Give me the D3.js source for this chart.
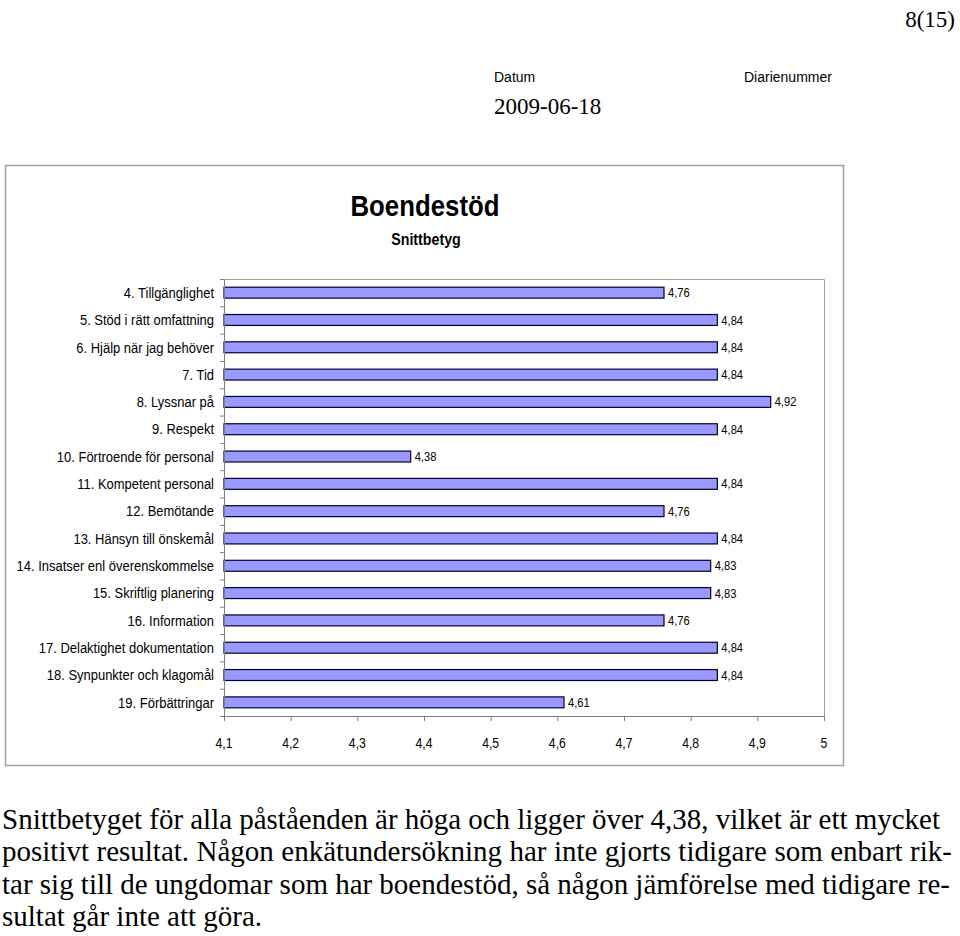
<!DOCTYPE html>
<html>
<head>
<meta charset="utf-8">
<script src="https://cdn.jsdelivr.net/npm/d3@7"></script>
<style>
  body { margin: 0; background: #fff; }
  svg { display: block; }
</style>
</head>
<body>
<svg id="page" width="960" height="936"></svg>
<script>
// chart data
var categories = [
  "4. Tillgänglighet",
  "5. Stöd i rätt omfattning",
  "6. Hjälp när jag behöver",
  "7. Tid",
  "8. Lyssnar på",
  "9. Respekt",
  "10. Förtroende för personal",
  "11. Kompetent personal",
  "12. Bemötande",
  "13. Hänsyn till önskemål",
  "14. Insatser enl överenskommelse",
  "15. Skriftlig planering",
  "16. Information",
  "17. Delaktighet dokumentation",
  "18. Synpunkter och klagomål",
  "19. Förbättringar"
];
var values = [4.76, 4.84, 4.84, 4.84, 4.92, 4.84, 4.38, 4.84, 4.76, 4.84, 4.83, 4.83, 4.76, 4.84, 4.84, 4.61];
var xTicks = [4.1, 4.2, 4.3, 4.4, 4.5, 4.6, 4.7, 4.8, 4.9, 5];

var bodyLines = [
  "Snittbetyget för alla påståenden är höga och ligger över 4,38, vilket är ett mycket",
  "positivt resultat. Någon enkätundersökning har inte gjorts tidigare som enbart rik-",
  "tar sig till de ungdomar som har boendestöd, så någon jämförelse med tidigare re-",
  "sultat går inte att göra."
];

var fmt = function(v) { return String(v).replace(".", ","); };
var sans = "'Liberation Sans', Arial, sans-serif";
var serif = "'Liberation Serif', 'Times New Roman', serif";

var svg = d3.select("#page");

// narrow (condensed) text: a group squeezed horizontally, x given in page pixels
function narrowGroup(sx) {
  var g = svg.append("g").attr("transform", "scale(" + sx + ",1)");
  g.sx = sx;
  return g;
}

// page header
svg.append("text").attr("x", 955).attr("y", 27).attr("text-anchor", "end")
  .style("font-family", serif).style("font-size", "23px").text("8(15)");
svg.append("text").attr("x", 494).attr("y", 82)
  .style("font-family", sans).style("font-size", "14px").text("Datum");
svg.append("text").attr("x", 744).attr("y", 82)
  .style("font-family", sans).style("font-size", "14px").text("Diarienummer");
svg.append("text").attr("x", 494).attr("y", 114)
  .style("font-family", serif).style("font-size", "23px").text("2009-06-18");

// chart frame
svg.append("rect")
  .attr("x", 5.5).attr("y", 165.5).attr("width", 838).attr("height", 600)
  .attr("fill", "#fff").attr("stroke", "#a0a0a0").attr("stroke-width", 1.5);

var titles = narrowGroup(0.86);
titles.append("text").attr("x", 425 / titles.sx).attr("y", 216).attr("text-anchor", "middle")
  .style("font-family", sans).style("font-weight", "bold").style("font-size", "30px")
  .text("Boendestöd");
var sub = narrowGroup(0.89);
sub.append("text").attr("x", 426 / sub.sx).attr("y", 245).attr("text-anchor", "middle")
  .style("font-family", sans).style("font-weight", "bold").style("font-size", "16px")
  .text("Snittbetyg");

var plotLeft = 224, plotRight = 824, plotTop = 279, plotBottom = 716;

var x = d3.scaleLinear().domain([4.1, 5]).range([plotLeft, plotRight]);
var y = d3.scaleBand().domain(categories).range([plotTop, plotBottom])
  .paddingInner(0.6).paddingOuter(0.3);

// plot border (top and right lines)
svg.append("path")
  .attr("d", "M" + plotLeft + "," + (plotTop + 0.5) + "H" + (plotRight + 0.5) + "V" + plotBottom)
  .attr("fill", "none").attr("stroke", "#a0a0a0").attr("stroke-width", 1);

// bars
svg.append("g").selectAll("rect")
  .data(values)
  .enter()
  .append("rect")
  .attr("x", x(4.1))
  .attr("y", (d, i) => y(categories[i]))
  .attr("width", d => x(d) - x(4.1))
  .attr("height", y.bandwidth())
  .attr("fill", "#9999ff")
  .attr("stroke", "#000033")
  .attr("stroke-width", 1.2);

// value labels
var vl = narrowGroup(0.86);
vl.selectAll("text")
  .data(values)
  .enter()
  .append("text")
  .attr("x", d => (x(d) + 4) / vl.sx)
  .attr("y", (d, i) => y(categories[i]) + y.bandwidth() / 2)
  .attr("dy", "0.35em")
  .style("font-family", sans).style("font-size", "13px")
  .text(d => fmt(d));

// y axis: line, ticks between categories, labels
var edge = i => plotTop + i * y.step();
var yAxis = svg.append("g");
yAxis.append("line")
  .attr("x1", plotLeft + 0.5).attr("x2", plotLeft + 0.5).attr("y1", plotTop).attr("y2", plotBottom)
  .attr("stroke", "#808080");
yAxis.selectAll("line.tk")
  .data(d3.range(categories.length + 1))
  .enter()
  .append("line")
  .attr("class", "tk")
  .attr("x1", plotLeft - 4).attr("x2", plotLeft)
  .attr("y1", i => edge(i) + 0.5)
  .attr("y2", i => edge(i) + 0.5)
  .attr("stroke", "#808080");

var cl = narrowGroup(0.865);
cl.selectAll("text")
  .data(categories)
  .enter()
  .append("text")
  .attr("x", (plotLeft - 10) / cl.sx)
  .attr("y", d => y(d) + y.bandwidth() / 2)
  .attr("dy", "0.35em")
  .attr("text-anchor", "end")
  .style("font-family", sans).style("font-size", "15px")
  .text(d => d);

// x axis
var xAxis = svg.append("g")
  .attr("transform", "translate(0," + plotBottom + ")")
  .call(d3.axisBottom(x).tickValues(xTicks).tickSizeInner(5).tickSizeOuter(0).tickFormat(""));
xAxis.select(".domain").attr("stroke", "#808080");
xAxis.selectAll(".tick line").attr("stroke", "#808080");

var xl = narrowGroup(0.87);
xl.selectAll("text")
  .data(xTicks)
  .enter()
  .append("text")
  .attr("x", d => x(d) / xl.sx)
  .attr("y", plotBottom + 27)
  .attr("dy", "0.35em")
  .attr("text-anchor", "middle")
  .style("font-family", sans).style("font-size", "14px")
  .text(d => fmt(d));

// body text, justified with word spacing
var bodyY = d3.scaleLinear().domain([0, 3]).range([829, 926]);
var bodyWidths = [940, 952, 950, null];
bodyLines.forEach((line, i) => {
  var t = svg.append("text")
    .attr("x", 2)
    .attr("y", bodyY(i))
    .style("font-family", serif).style("font-size", "29px")
    .text(line);
  if (bodyWidths[i]) {
    var natural = t.node().getComputedTextLength();
    var gaps = line.split(" ").length - 1;
    t.style("word-spacing", ((bodyWidths[i] - 2 - natural) / gaps) + "px");
  }
});
</script>
</body>
</html>
